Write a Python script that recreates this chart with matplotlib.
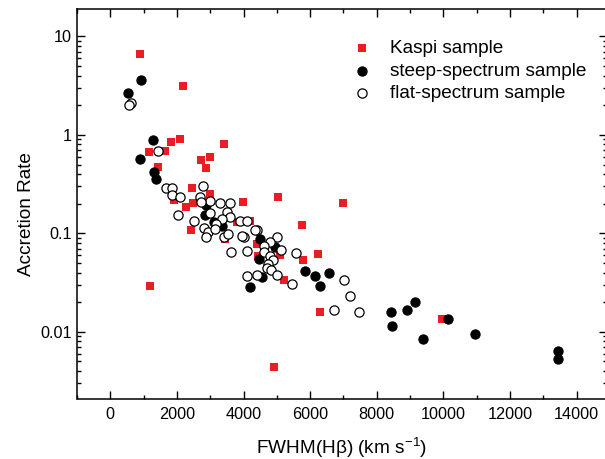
import matplotlib
matplotlib.use("Agg")
import matplotlib.pyplot as plt
from matplotlib.ticker import MultipleLocator, LogLocator, FuncFormatter, NullFormatter

plt.rcParams['font.family'] = ['Liberation Sans', 'DejaVu Sans']
plt.rcParams['mathtext.default'] = 'regular'

# Kaspi sample
kaspi_fwhm = [900, 2180, 1170, 1630, 1830, 2100, 1440, 3410, 2730, 3000, 2880,
              2450, 2985, 1900, 2480, 2260, 3975, 5040, 6980, 5760, 2415, 3450,
              3800, 4200, 6230, 5780, 5100, 4425, 4410, 5220, 6280, 4900, 1200, 9950]
kaspi_rate = [6.64, 3.12, 0.667, 0.689, 0.843, 0.91, 0.476, 0.816, 0.561, 0.602, 0.459,
              0.288, 0.25, 0.219, 0.205, 0.183, 0.210, 0.232, 0.205, 0.122, 0.107, 0.088,
              0.130, 0.135, 0.0619, 0.0542, 0.0606, 0.059, 0.078, 0.0332, 0.0157, 0.0044, 0.0295, 0.0136]

# steep-spectrum sample
steep_fwhm = [930, 520, 1270, 900, 1300, 1375, 2880, 2850, 3100, 3360, 4485, 4935,
              4450, 4560, 5850, 6130, 6550, 6300, 4180, 8430, 8470, 8900, 9150,
              9400, 10130, 10960, 13450, 13450]
steep_rate = [3.59, 2.65, 0.88, 0.566, 0.424, 0.359, 0.195, 0.155, 0.130, 0.118, 0.088, 0.0728,
              0.0555, 0.0364, 0.0419, 0.0367, 0.0394, 0.0295, 0.0286, 0.0158, 0.0115, 0.0167, 0.0200,
              0.0085, 0.0136, 0.0095, 0.0064, 0.0053]

# flat-spectrum sample
flat_fwhm = [630, 550, 1430, 1660, 1840, 1850, 2090, 2790, 2685, 3000, 2720, 3300,
             3580, 2030, 2520, 3000, 3510, 3600, 3350, 3170, 2800, 2940, 2880, 3900,
             4090, 3420, 3520, 4390, 4005, 3630, 4100, 4995, 4785, 4620, 5130, 4620,
             4785, 4880, 4720, 4700, 4830, 4350, 5580, 4095, 4410, 5000, 5440, 7030,
             7185, 6710, 7475, 3950, 3150]
flat_rate = [2.11, 2.02, 0.684, 0.287, 0.290, 0.246, 0.232, 0.304, 0.236, 0.215, 0.207, 0.203,
             0.202, 0.155, 0.135, 0.160, 0.164, 0.146, 0.140, 0.125, 0.112, 0.102, 0.0915, 0.135,
             0.132, 0.0915, 0.098, 0.109, 0.0915, 0.0644, 0.0669, 0.0915, 0.082, 0.075, 0.0685, 0.064,
             0.0595, 0.053, 0.049, 0.0443, 0.0425, 0.107, 0.0625, 0.0368, 0.0375, 0.0375, 0.0305, 0.0332,
             0.023, 0.0168, 0.0158, 0.0937, 0.111]

fig = plt.figure(figsize=(6.05, 4.59), dpi=100)
ax = fig.add_axes([77 / 605, 60.5 / 459, 530 / 605, 389.5 / 459])

ax.scatter(kaspi_fwhm, kaspi_rate, marker='s', s=34, color='#ec1c24', lw=0,
           label='Kaspi sample', zorder=3)
ax.scatter(steep_fwhm, steep_rate, marker='o', s=44, facecolor='black', edgecolor='black',
           lw=0.8, label='steep-spectrum sample', zorder=4)
ax.scatter(flat_fwhm, flat_rate, marker='o', s=44, facecolor='white', edgecolor='black',
           lw=0.9, label='flat-spectrum sample', zorder=5)

ax.set_yscale('log')
ax.set_xlim(-1000, 14910)
ax.set_ylim(0.0021, 19.0)

ax.xaxis.set_major_locator(MultipleLocator(2000))
ax.xaxis.set_minor_locator(MultipleLocator(1000))
ax.yaxis.set_major_locator(LogLocator(base=10))
ax.yaxis.set_minor_locator(LogLocator(base=10, subs=range(2, 10)))
ax.yaxis.set_major_formatter(FuncFormatter(lambda v, p: '{:g}'.format(v)))
ax.yaxis.set_minor_formatter(NullFormatter())

ax.tick_params(which='both', direction='in', top=True, right=True, width=1, labelsize=11.7)
ax.tick_params(axis='x', which='major', length=6, pad=6)
ax.tick_params(axis='y', which='major', length=6, pad=4)
ax.tick_params(which='minor', length=3)
for sp in ax.spines.values():
    sp.set_linewidth(1.1)

ax.set_xlabel(r'FWHM(H$\beta$) (km s$^{-1}$)', fontsize=13.7)
ax.xaxis.label.set_va('center')
ax.xaxis.set_label_coords(0.5, -0.127)
ax.set_ylabel('Accretion Rate', fontsize=13.7)
ax.yaxis.label.set_va('center')
ax.yaxis.set_label_coords(-0.096, 0.474)

ax.legend(loc='upper left', bbox_to_anchor=(352.6 / 605, 1 - 40 / 459),
          bbox_transform=fig.transFigure, frameon=False, fontsize=13.7,
          handlelength=1.0, handletextpad=0.95, borderpad=0, borderaxespad=0,
          labelspacing=0.26, scatterpoints=1)

fig.savefig('out.png', dpi=100)
